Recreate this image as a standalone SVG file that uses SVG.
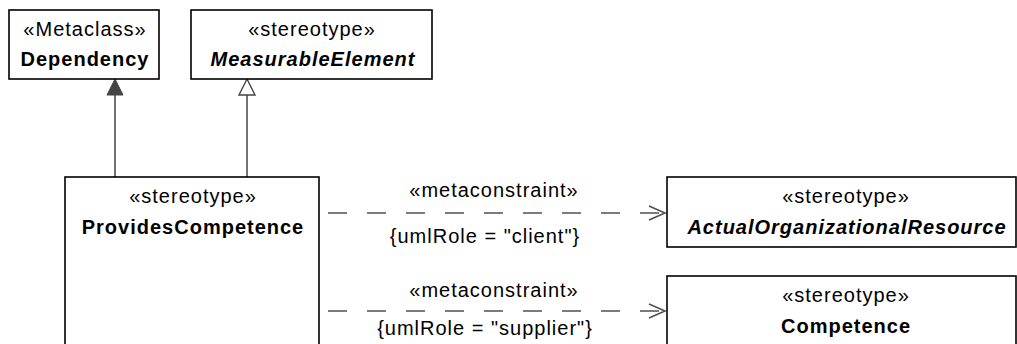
<svg xmlns="http://www.w3.org/2000/svg" width="1017" height="344" viewBox="0 0 1017 344">
<style>
.box{fill:#fff;stroke:#000;stroke-width:1.6}
text{font-family:"Liberation Sans",Arial,sans-serif;font-size:20px;letter-spacing:1px;fill:#000;text-anchor:middle}
.b{font-weight:bold}
.bi{font-weight:bold;font-style:italic}
.ln{fill:none;stroke:#505050;stroke-width:1.6}
.dash{fill:none;stroke:#505050;stroke-width:1.6;stroke-dasharray:19 20}
</style>
<defs>
<marker id="open" markerUnits="userSpaceOnUse" markerWidth="20" markerHeight="20" refX="17" refY="8" orient="auto" viewBox="0 0 20 16">
<path d="M1,1 L17,8 L1,15" fill="none" stroke="#505050" stroke-width="1.6"/>
</marker>
</defs>
<g id="connectors">
<line class="ln" x1="115" y1="177" x2="115" y2="94"/>
<polygon points="115,79 107,95 123,95" fill="#444" stroke="#444" stroke-width="1"/>
<line class="ln" x1="247" y1="177" x2="247" y2="94"/>
<polygon points="247,79 239,95 255,95" fill="#fff" stroke="#444" stroke-width="1.4"/>
<line class="dash" x1="328" y1="213" x2="665" y2="213" marker-end="url(#open)"/>
<line class="dash" x1="328" y1="311" x2="665" y2="311" marker-end="url(#open)"/>
<text x="494" y="197">«metaconstraint»</text>
<text x="485" y="243">{umlRole = "client"}</text>
<text x="494" y="297">«metaconstraint»</text>
<text x="485" y="335">{umlRole = "supplier"}</text>
</g>
<g id="dependency">
<rect class="box" x="9" y="10" width="150" height="69"/>
<text x="85" y="36">«Metaclass»</text>
<text class="b" x="85" y="66">Dependency</text>
</g>
<g id="measurableElement">
<rect class="box" x="191" y="10" width="241" height="69"/>
<text x="312" y="36">«stereotype»</text>
<text class="bi" x="313" y="66">MeasurableElement</text>
</g>
<g id="providesCompetence">
<rect class="box" x="65" y="177" width="254" height="180"/>
<text x="193" y="203">«stereotype»</text>
<text class="b" x="193" y="234">ProvidesCompetence</text>
</g>
<g id="actualOrganizationalResource">
<rect class="box" x="667" y="177" width="349" height="70"/>
<text x="846" y="203">«stereotype»</text>
<text class="bi" x="847" y="234">ActualOrganizationalResource</text>
</g>
<g id="competence">
<rect class="box" x="667" y="276" width="349" height="80"/>
<text x="846" y="302">«stereotype»</text>
<text class="b" x="846" y="333">Competence</text>
</g>
</svg>
